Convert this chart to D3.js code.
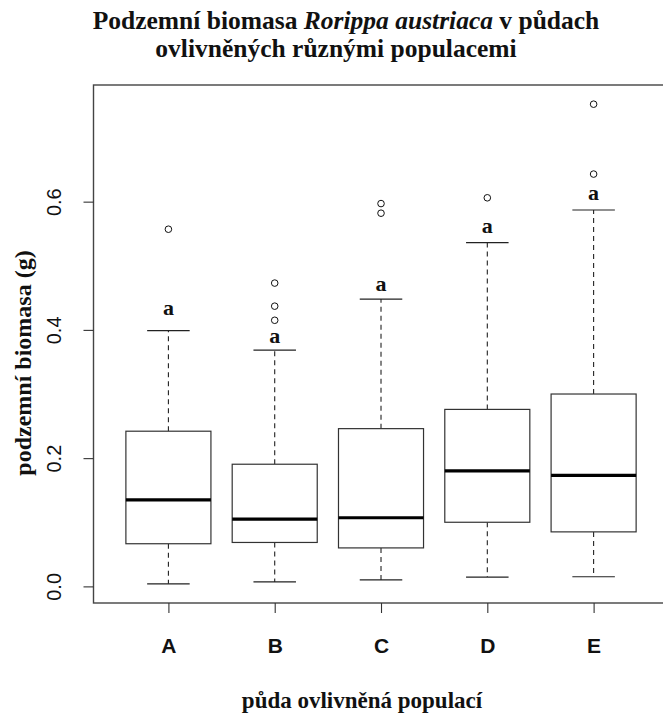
<!DOCTYPE html>
<html>
<head>
<meta charset="utf-8">
<script src="https://cdn.jsdelivr.net/npm/d3@7"></script>
<style>
  html, body { margin: 0; padding: 0; background: #fff; }
  svg { display: block; }
</style>
</head>
<body>
<svg id="chart" width="663" height="718"></svg>
<script>
// ---- data ----
const categories   = ["A", "B", "C", "D", "E"];
const whiskerLow   = [0.004, 0.007, 0.010, 0.0145, 0.015];
const q1           = [0.0665, 0.0685, 0.060, 0.100, 0.085];
const medians      = [0.135, 0.105, 0.107, 0.180, 0.173];
const q3           = [0.242, 0.1905, 0.246, 0.276, 0.300];
const whiskerHigh  = [0.399, 0.3685, 0.448, 0.536, 0.587];
const outliers     = [[0.557], [0.415, 0.437, 0.473], [0.582, 0.597], [0.606], [0.643, 0.752]];
const letterLabels = ["a", "a", "a", "a", "a"];
const letterY      = [0.4225, 0.380, 0.4614, 0.551, 0.6026];
const yTicks       = [0.0, 0.2, 0.4, 0.6];
const titleLine2   = "ovlivněných různými populacemi";
const xTitle       = "půda ovlivněná populací";
const yTitle       = "podzemní biomasa (g)";

const svg = d3.select("#chart");
const serif = "'Liberation Serif', 'Times New Roman', serif";
const sans  = "'Liberation Sans', Arial, sans-serif";

// R-style axis extents (4% expansion)
const n = categories.length;
const allVals = whiskerLow.concat(whiskerHigh, outliers.flat());
const dMin = d3.min(allVals), dMax = d3.max(allVals);
const pad = 0.04 * (dMax - dMin);
const unit = 106.3, left = 94;
const x = d3.scaleLinear().domain([0.3, n + 0.7]).range([left, left + unit * (n + 0.4)]);
const y = d3.scaleLinear().domain([dMin - pad, dMax + pad]).range([603, 85]);

const boxW = 0.8 * unit, capW = boxW / 2;
const data = categories.map((c, i) => ({
  c, i: i + 1, lo: whiskerLow[i], q1: q1[i], med: medians[i], q3: q3[i], hi: whiskerHigh[i],
  out: outliers[i], lab: letterLabels[i], ly: letterY[i]
}));

const g = svg.append("g");
const box = g.selectAll("g.box").data(data).join("g").attr("class", "box");

// whiskers (dashed)
box.append("line")
  .attr("x1", d => x(d.i)).attr("x2", d => x(d.i))
  .attr("y1", d => y(d.q3)).attr("y2", d => y(d.hi))
  .attr("stroke", "#222").attr("stroke-width", 1.1).attr("stroke-dasharray", "5,4");
box.append("line")
  .attr("x1", d => x(d.i)).attr("x2", d => x(d.i))
  .attr("y1", d => y(d.q1)).attr("y2", d => y(d.lo))
  .attr("stroke", "#222").attr("stroke-width", 1.1).attr("stroke-dasharray", "5,4");
// caps
["lo", "hi"].forEach(k => {
  box.append("line")
    .attr("x1", d => x(d.i) - capW / 2).attr("x2", d => x(d.i) + capW / 2)
    .attr("y1", d => y(d[k])).attr("y2", d => y(d[k]))
    .attr("stroke", "#222").attr("stroke-width", 1.2);
});
// boxes
box.append("rect")
  .attr("x", d => x(d.i) - boxW / 2).attr("width", boxW)
  .attr("y", d => y(d.q3)).attr("height", d => y(d.q1) - y(d.q3))
  .attr("fill", "#fff").attr("stroke", "#333").attr("stroke-width", 1.2);
// medians
box.append("line")
  .attr("x1", d => x(d.i) - boxW / 2).attr("x2", d => x(d.i) + boxW / 2)
  .attr("y1", d => y(d.med)).attr("y2", d => y(d.med))
  .attr("stroke", "#000").attr("stroke-width", 3.2);
// outliers
box.selectAll("circle").data(d => d.out.map(v => ({ i: d.i, v }))).join("circle")
  .attr("cx", d => x(d.i)).attr("cy", d => y(d.v)).attr("r", 3.3)
  .attr("fill", "none").attr("stroke", "#111").attr("stroke-width", 1);
// letter labels
box.append("text")
  .attr("x", d => x(d.i)).attr("y", d => y(d.ly))
  .attr("text-anchor", "middle")
  .attr("font-family", serif).attr("font-weight", "bold").attr("font-size", 22)
  .attr("fill", "#111")
  .text(d => d.lab);

// plot frame
svg.append("rect")
  .attr("x", x(0.3) - 0.5).attr("y", y.range()[1])
  .attr("width", x(n + 0.7) - x(0.3)).attr("height", y.range()[0] - y.range()[1])
  .attr("fill", "none").attr("stroke", "#444").attr("stroke-width", 1.4);

// y axis
const yAxis = svg.append("g").attr("transform", `translate(${x(0.3) - 0.5},0)`)
  .call(d3.axisLeft(y).tickValues(yTicks).tickFormat(d3.format(".1f")).tickSize(10).tickSizeOuter(0));
yAxis.select(".domain").remove();
yAxis.selectAll(".tick line").attr("stroke", "#333").attr("stroke-width", 1.1);
yAxis.selectAll(".tick text")
  .attr("font-family", sans).attr("font-size", 20).attr("fill", "#111")
  .attr("text-anchor", "middle").attr("x", null).attr("dy", null)
  .attr("transform", "translate(-33,0) rotate(-90)");

// x axis
const xAxis = svg.append("g").attr("transform", `translate(0,${y.range()[0]})`)
  .call(d3.axisBottom(x).tickValues(d3.range(1, n + 1)).tickFormat(d => categories[d - 1]).tickSize(10).tickSizeOuter(0));
xAxis.select(".domain").remove();
xAxis.selectAll(".tick line").attr("stroke", "#333").attr("stroke-width", 1.1);
xAxis.selectAll(".tick text")
  .attr("font-family", sans).attr("font-weight", "bold").attr("font-size", 21).attr("fill", "#111")
  .attr("dy", null).attr("y", 50);

// title
const t1 = svg.append("text").attr("x", 346).attr("y", 29).attr("text-anchor", "middle")
  .attr("font-family", serif).attr("font-weight", "bold").attr("font-size", 25.5).attr("fill", "#111");
t1.append("tspan").text("Podzemní biomasa ");
t1.append("tspan").attr("font-style", "italic").text("Rorippa austriaca");
t1.append("tspan").text(" v půdach");
svg.append("text").attr("x", 336).attr("y", 57).attr("text-anchor", "middle")
  .attr("font-family", serif).attr("font-weight", "bold").attr("font-size", 25.5).attr("fill", "#111")
  .text(titleLine2);

// axis titles
svg.append("text").attr("x", 362).attr("y", 708).attr("text-anchor", "middle")
  .attr("font-family", serif).attr("font-weight", "bold").attr("font-size", 23).attr("fill", "#111")
  .text(xTitle);
svg.append("text").attr("transform", "translate(31,363) rotate(-90)").attr("text-anchor", "middle")
  .attr("font-family", serif).attr("font-weight", "bold").attr("font-size", 24).attr("fill", "#111")
  .text(yTitle);
</script>
</body>
</html>
